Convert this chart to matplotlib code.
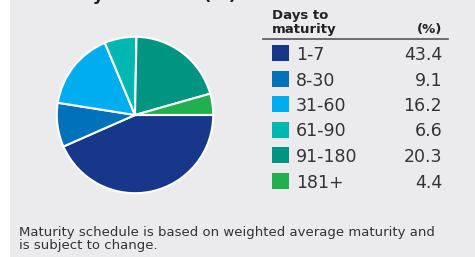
import matplotlib
matplotlib.use("Agg")
import matplotlib.pyplot as plt
from matplotlib.patches import Rectangle

categories = ["1-7", "8-30", "31-60", "61-90", "91-180", "181+"]
values = [43.4, 9.1, 16.2, 6.6, 20.3, 4.4]
value_labels = ["43.4", "9.1", "16.2", "6.6", "20.3", "4.4"]
colors = ["#17388A", "#0071BA", "#00AEEF", "#00B7B1", "#009580", "#22B04F"]

title = "Maturity schedule (%)"
legend_header = "Days to\nmaturity"
pct_header = "(%)"
footnote = "Maturity schedule is based on weighted average maturity and\nis subject to change."

W, H = 475, 257
fig = plt.figure(figsize=(W / 100, H / 100), dpi=100, facecolor="white")

# overlay axes in pixel coordinates
ov = fig.add_axes([0, 0, 1, 1])
ov.set_xlim(0, W)
ov.set_ylim(H, 0)
ov.axis("off")
ov.add_patch(Rectangle((10, 0), W - 10, H, facecolor="#EBEBED", edgecolor="none", zorder=0))

ov.text(20, -0.5, title, fontsize=12.5, fontweight="bold", color="#222222", va="baseline", ha="left")

# pie
cx, cy, r = 135, 115, 79
pax = fig.add_axes([(cx - r) / W, (H - cy - r) / H, 2 * r / W, 2 * r / H])
pax.pie(values, colors=colors, startangle=0, counterclock=False,
        wedgeprops=dict(edgecolor="white", linewidth=1.5))
pax.set_xlim(-1.01, 1.01)
pax.set_ylim(-1.01, 1.01)
pax.set_aspect("equal")
pax.axis("off")

# legend table
ov.text(272, 33, legend_header, fontsize=9.5, fontweight="bold", color="#222222",
        va="baseline", ha="left", linespacing=1.15)
ov.text(442, 33, pct_header, fontsize=9.5, fontweight="bold", color="#222222",
        va="baseline", ha="right")
ov.plot([263, 448], [39, 39], color="#555555", lw=1.2)

row_y = [53, 78.5, 104, 129.5, 155, 180.5]
for cat, lab, col, y in zip(categories, value_labels, colors, row_y):
    ov.add_patch(Rectangle((272, y - 8), 17, 16, facecolor=col, edgecolor="none"))
    ov.text(296, y, cat, fontsize=12.5, color="#333333", va="center_baseline", ha="left")
    ov.text(442, y, lab, fontsize=12.5, color="#333333", va="center_baseline", ha="right")

ov.text(19, 249, footnote, fontsize=9.5, color="#333333", va="baseline", ha="left",
        linespacing=1.0)

fig.savefig("out.png", dpi=100, facecolor="white")
